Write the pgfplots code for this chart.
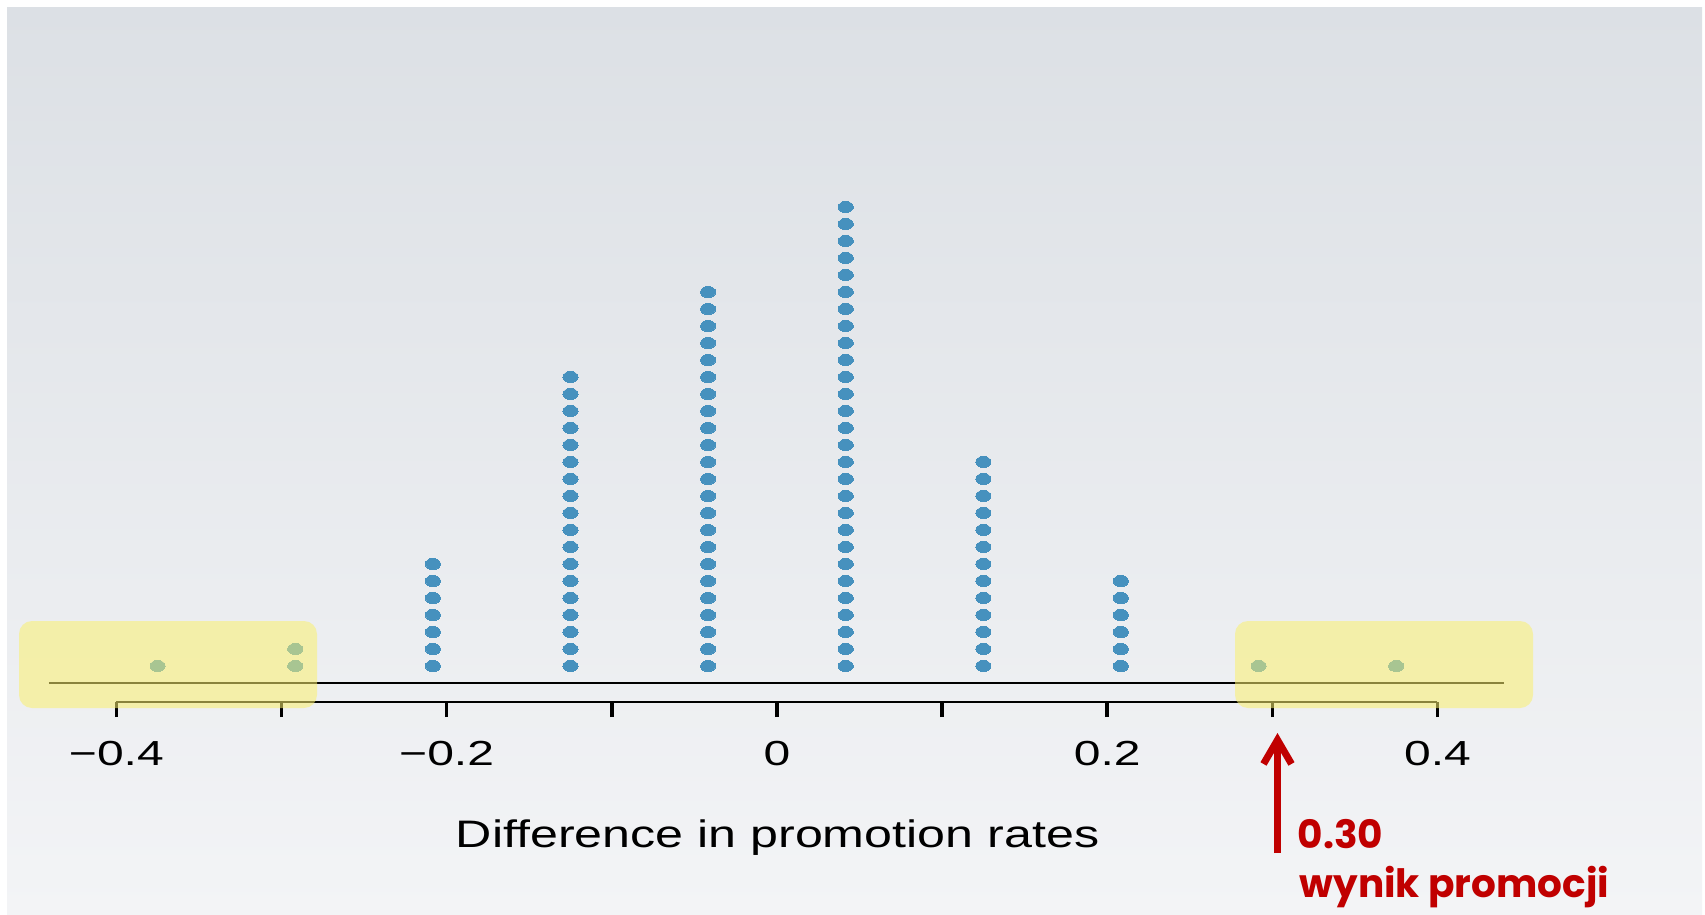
\documentclass[border=0pt]{standalone}
\usepackage{pgfplots}
\pgfplotsset{compat=1.18}
\usepackage{fontspec}
\setmainfont{Liberation Sans}
\newfontfamily\poppins{Poppins}
\usetikzlibrary{arrows.meta}
\definecolor{dotblue}{RGB}{70,145,190}
\definecolor{hlyellow}{RGB}{250,240,110}
\definecolor{annred}{RGB}{192,0,0}
\definecolor{bgtop}{RGB}{220,224,229}
\definecolor{bgmid}{RGB}{234,237,241}
\definecolor{bgbot}{RGB}{243,244,246}
\begin{document}
\begin{tikzpicture}
\useasboundingbox (0,0) rectangle (170.5mm,91.4mm);
\fill[white] (0,0) rectangle (170.5mm,91.4mm);
\shade[top color=bgtop, middle color=bgmid, bottom color=bgbot] (0.7mm,0) rectangle (170.2mm,90.7mm);
\begin{axis}[
  at={(5.03mm,21.2mm)}, anchor=south west,
  x=165.14mm, y=1.7mm,
  xmin=-0.44, xmax=0.44, ymin=-1.1176, ymax=30,
  clip=false,
  axis y line=none,
  axis x line*=bottom,
  x axis line style={draw=none},
  xtick={-0.4,-0.3,-0.2,-0.1,0,0.1,0.2,0.3,0.4},
  xticklabels={−0.4,,−0.2,,0,,0.2,,0.4},
  xtick align=outside,
  major tick length=1.5mm,
  xtick style={black, line width=0.35mm},
  xticklabel style={font=\fontsize{9.9}{12}\selectfont, xscale=1.38, anchor=base, yshift=-4.87mm},
]
\draw[black, line width=0.2mm] (axis cs:-0.4408,0) -- (axis cs:0.4403,0);
\draw[black, line width=0.25mm] (axis cs:-0.4,-1.1176) -- (axis cs:0.4,-1.1176);
\addplot[only marks, color=dotblue, mark=*, mark size=1.58pt, mark options={xscale=1.36, fill=dotblue, draw=dotblue, line width=0pt}] table {
x y
-0.375 1
-0.2917 1
-0.2917 2
-0.2083 1
-0.2083 2
-0.2083 3
-0.2083 4
-0.2083 5
-0.2083 6
-0.2083 7
-0.125 1
-0.125 2
-0.125 3
-0.125 4
-0.125 5
-0.125 6
-0.125 7
-0.125 8
-0.125 9
-0.125 10
-0.125 11
-0.125 12
-0.125 13
-0.125 14
-0.125 15
-0.125 16
-0.125 17
-0.125 18
-0.0417 1
-0.0417 2
-0.0417 3
-0.0417 4
-0.0417 5
-0.0417 6
-0.0417 7
-0.0417 8
-0.0417 9
-0.0417 10
-0.0417 11
-0.0417 12
-0.0417 13
-0.0417 14
-0.0417 15
-0.0417 16
-0.0417 17
-0.0417 18
-0.0417 19
-0.0417 20
-0.0417 21
-0.0417 22
-0.0417 23
0.0417 1
0.0417 2
0.0417 3
0.0417 4
0.0417 5
0.0417 6
0.0417 7
0.0417 8
0.0417 9
0.0417 10
0.0417 11
0.0417 12
0.0417 13
0.0417 14
0.0417 15
0.0417 16
0.0417 17
0.0417 18
0.0417 19
0.0417 20
0.0417 21
0.0417 22
0.0417 23
0.0417 24
0.0417 25
0.0417 26
0.0417 27
0.0417 28
0.125 1
0.125 2
0.125 3
0.125 4
0.125 5
0.125 6
0.125 7
0.125 8
0.125 9
0.125 10
0.125 11
0.125 12
0.125 13
0.2083 1
0.2083 2
0.2083 3
0.2083 4
0.2083 5
0.2083 6
0.2917 1
0.375 1
};
\end{axis}
\fill[hlyellow, opacity=0.55, rounded corners=1.3mm] (1.9mm,20.6mm) rectangle (31.7mm,29.3mm);
\fill[hlyellow, opacity=0.55, rounded corners=1.3mm] (123.5mm,20.6mm) rectangle (153.3mm,29.3mm);
\node[anchor=base, inner sep=0, xscale=1.31, font=\fontsize{10.9}{13}\selectfont] at (77.75mm,6.7mm) {Difference in promotion rates};
\draw[annred, line width=0.7mm, -{Straight Barb[length=2.4mm, width=2.8mm]}] (127.75mm,6.1mm) -- (127.75mm,18.1mm);
\node[anchor=base west, inner sep=0, text=annred, font=\poppins\bfseries\fontsize{11.1}{13}\selectfont] at (129.7mm,6.6mm) {0.30};
\node[anchor=base west, inner sep=0, text=annred, font=\poppins\bfseries\fontsize{11.1}{13}\selectfont] at (129.9mm,1.7mm) {wynik promocji};
\end{tikzpicture}
\end{document}
